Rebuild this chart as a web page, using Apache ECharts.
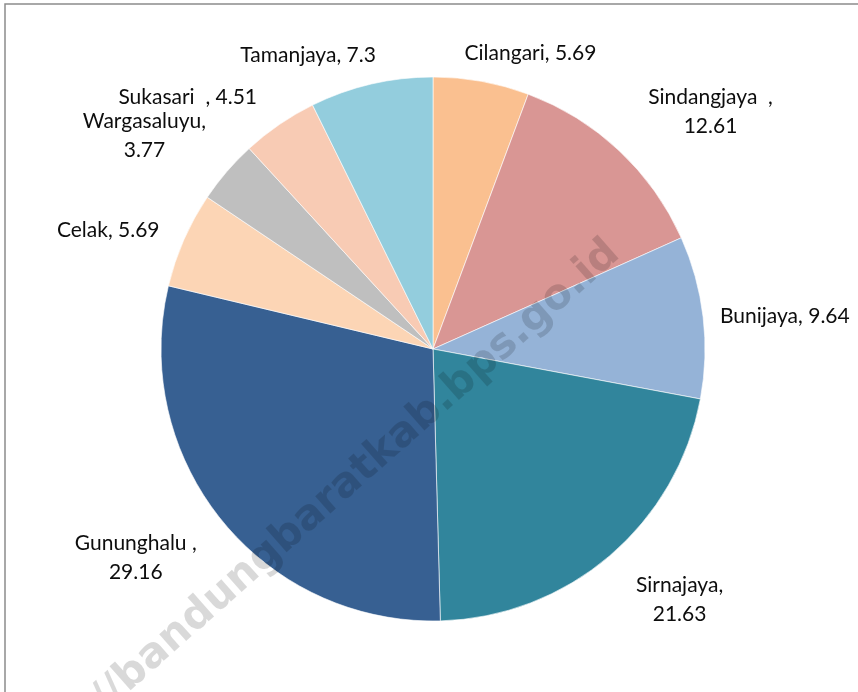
<!DOCTYPE html>
<html>
<head>
<meta charset="utf-8">
<style>
  html, body { margin: 0; padding: 0; background: #fff; }
  #main { width: 858px; height: 692px; }
</style>
<script src="https://cdn.jsdelivr.net/npm/echarts@6/dist/echarts.min.js"></script>
</head>
<body>
<div id="main"></div>
<script>
// data (clockwise from 12 o'clock)
var kecamatan = ['Cilangari', 'Sindangjaya  ', 'Bunijaya', 'Sirnajaya', 'Gununghalu ', 'Celak', 'Wargasaluyu', 'Sukasari  ', 'Tamanjaya'];
var persen = [5.69, 12.61, 9.64, 21.63, 29.16, 5.69, 3.77, 4.51, 7.3];
var warna = ['#FAC090', '#D99694', '#95B3D7', '#31859C', '#376092', '#FCD5B5', '#BFBFBF', '#F8CBB4', '#93CDDD'];
// labels broken onto two lines
var duaBaris = [false, true, false, true, true, false, true, false, false];
// label nudges from the radial anchor point (layout only)
var geserLabel = [[42, 11], [64, -10], [42, 4], [44, 13], [-55, 12], [-39, 6], [-52, -10], [-69, 6], [-54, 10]];

var pusat = [433, 349], jari = 272;
var total = persen.reduce(function (a, b) { return a + b; }, 0);

var chart = echarts.init(document.getElementById('main'), null, { renderer: 'canvas' });

var dataPie = kecamatan.map(function (n, i) {
  return { name: n, value: persen[i], itemStyle: { color: warna[i] } };
});

var option = {
  backgroundColor: '#fff',
  animation: false,
  graphic: [
    {
      type: 'rect',
      shape: { x: 5, y: 4, width: 900, height: 800 },
      style: { fill: 'none', stroke: '#8c8c8c', lineWidth: 1.5 },
      z: 0
    },
    {
      // watermark
      type: 'text',
      x: 614, y: 248,
      rotation: 41.5 * Math.PI / 180,
      style: {
        text: 'http://bandungbaratkab.bps.go.id',
        font: 'bold 42px "DejaVu Sans", Verdana, sans-serif',
        fill: 'rgba(0,0,0,0.15)',
        align: 'right',
        verticalAlign: 'middle'
      },
      z: 100
    }
  ],
  series: [{
    type: 'pie',
    center: pusat,
    radius: jari,
    startAngle: 90,
    clockwise: true,
    avoidLabelOverlap: false,
    itemStyle: { borderColor: '#fff', borderWidth: 0.6 },
    label: {
      show: true,
      position: 'outside',
      color: '#0d0d0d',
      fontFamily: 'Lato, "Open Sans", sans-serif',
      fontSize: 21,
      lineHeight: 29,
      formatter: function (p) {
        return p.name + ',' + (duaBaris[p.dataIndex] ? '\n' : ' ') + p.value;
      }
    },
    labelLine: { show: false },
    labelLayout: function (p) {
      var i = p.dataIndex;
      var sebelum = 0;
      for (var k = 0; k < i; k++) sebelum += persen[k];
      var tengah = (sebelum + persen[i] / 2) / total * 2 * Math.PI;
      var r = jari + 40;
      return {
        x: pusat[0] + r * Math.sin(tengah) + geserLabel[i][0],
        y: pusat[1] - r * Math.cos(tengah) + geserLabel[i][1],
        align: 'center',
        verticalAlign: 'middle'
      };
    },
    data: dataPie
  }]
};

chart.setOption(option);
</script>
</body>
</html>
